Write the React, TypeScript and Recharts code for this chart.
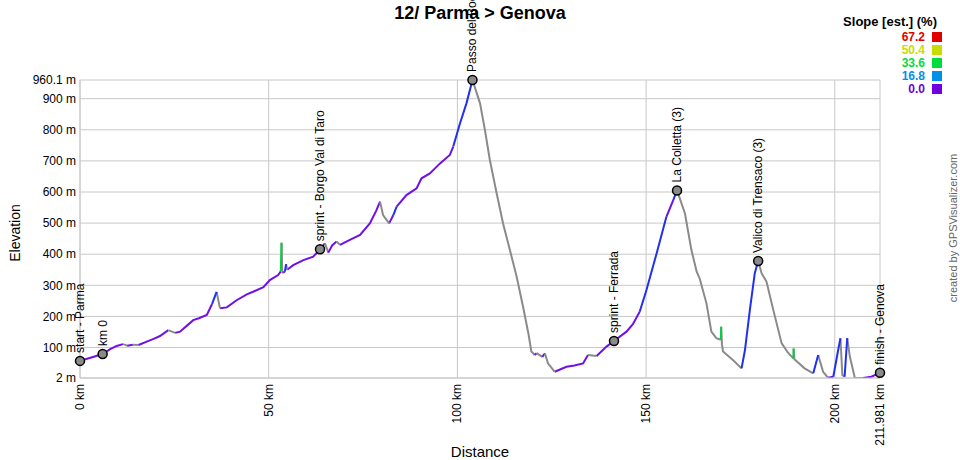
import React from 'react';
import { LineChart, Line, XAxis, YAxis, CartesianGrid, ReferenceDot } from 'recharts';

// elevation profile
const distKm = [
  0, 3, 6.0, 8, 9.7, 11.4, 12.5, 14, 15.5, 17.7, 19.5, 21.2, 23.4, 24.2, 25.2, 26.5, 28.5, 30,
  31.5, 33.6, 35, 36.2, 37.1, 38.9, 41.5, 44.2, 46, 48.6, 50.3, 52.5, 53.2, 53.4, 53.6, 54.3,
  54.6, 54.9, 56.5, 59.2, 61.8, 63.6, 64.9, 65.8, 66.8, 68, 68.9, 71.5, 74.2, 76.8, 78.5, 79.5,
  80.3, 81.9, 83.0, 83.9, 86.5, 89.2, 90.5, 92.7, 95.4, 98, 98.9, 100.7, 102.4, 104.0, 106,
  107.3, 108.6, 110.4, 112.1, 113.9, 115.7, 117.4, 118.8, 119.6, 120.5, 121.0, 122.5, 123.2,
  124, 125.8, 128.9, 131, 133.3, 134.6, 136.9, 139.5, 141.5, 144.8, 146.5, 148.3, 150.1, 152.8,
  155.4, 157.2, 158.2, 160.3, 162, 163.4, 164.2, 166, 167.3, 168.6, 169.8, 169.9, 170.1, 170.4,
  173, 175.3, 176.2, 177.5, 178.8, 179.7, 180.6, 181.9, 183.7, 185.9, 187.5, 189, 189.1, 189.3,
  192, 194.3, 195.6, 196.9, 198.2, 199.6, 200.9, 201.5, 202, 202.6, 203.3, 204, 205.3, 207.5,
  209.7, 211.981,
];
const elevM = [
  57, 68, 79, 95, 105, 111, 106, 109, 108, 119, 128, 137, 156, 152, 147, 151, 172, 188,
  194, 205, 240, 279, 226, 229, 252, 271, 280, 294, 317, 333, 345, 437, 340, 344,
  368, 350, 365, 381, 392, 416, 435, 405, 428, 441, 430, 446, 462, 499, 540, 569,
  526, 499, 525, 553, 590, 612, 644, 660, 692, 719, 746, 821, 885, 960, 885,
  799, 703, 596, 499, 414, 328, 231, 146, 87, 76, 82, 70, 81,
  49, 22, 38, 42, 49, 76, 73, 103, 121, 151, 175, 215, 285, 403,
  521, 574, 605, 531, 414, 344, 322, 242, 151, 130, 125, 167, 110, 87,
  60, 33, 92, 221, 339, 378, 339, 312, 221, 114, 85, 65, 97, 62,
  33, 17, 76, 22, 3, 6, 92, 130, 12, 6, 130, 70, 3, 2,
  6, 19,
];

const wpNames = [
  'start - Parma', 'km 0', 'sprint - Borgo Val di Taro', 'Passo del Bocco',
  'sprint - Ferrada', 'La Colletta (3)', 'Valico di Trensaco (3)', 'finish - Genova',
];
const wpKm = [0, 6.0, 63.6, 104.0, 141.5, 158.2, 179.7, 211.981];
const wpElev = [57, 79, 416, 960, 121, 605, 378, 19];

const xTicks = [0, 50, 100, 150, 200, 211.981];
const yTicks = [2, 100, 200, 300, 400, 500, 600, 700, 800, 900, 960.1];

const legendValues = ['67.2', '50.4', '33.6', '16.8', '0.0'];
const legendColors = ['#e00000', '#c8dc00', '#00dc3c', '#0090e8', '#7000e0'];

const FONT = '"Liberation Sans", Arial, sans-serif';
const GRID = '#c8c8c8';
// flat climb, climb, steep, descent
const segColors = ['#7010e8', '#2030f0', '#00d040', '#8a8a8a'];

function segColor(i: number) {
  const slope = (elevM[i + 1] - elevM[i]) / ((distKm[i + 1] - distKm[i]) * 10);
  if (slope < 0) return 3;
  if (slope < 3) return 0;
  if (slope < 20) return 1;
  return 2;
}

// split the profile into runs of one colour; runs get their own series key
const seriesKeys: { key: string; color: string }[] = [];
const rows: Record<string, number | null>[] = distKm.map((d) => ({ d }));
{
  let run = -1;
  let prev = -1;
  for (let i = 0; i < distKm.length - 1; i++) {
    const c = segColor(i);
    if (c !== prev) {
      run++;
      prev = c;
    }
    const key = `s${c}_${run % 3}`;
    if (!seriesKeys.find((s) => s.key === key)) seriesKeys.push({ key, color: segColors[c] });
    rows[i][key] = elevM[i];
    rows[i + 1][key] = elevM[i + 1];
  }
  rows.forEach((r) => seriesKeys.forEach((s) => {
    if (r[s.key] === undefined) r[s.key] = null;
  }));
}

const XTick = ({ x, payload }: any) => (
  <text
    x={x + 4}
    y={384}
    transform={`rotate(-90, ${x + 4}, 384)`}
    textAnchor="end"
    fontSize={12}
    fontFamily={FONT}
    fill="#000"
  >
    {payload.value} km
  </text>
);

const YTick = ({ y, payload }: any) => (
  <text x={76} y={y} dy="0.35em" textAnchor="end" fontSize={12} fontFamily={FONT} fill="#000">
    {payload.value} m
  </text>
);

function Waypoint({ cx, cy, name }: { cx: number; cy: number; name: string }) {
  const tx = cx + 4;
  const ty = cy - 8;
  return (
    <g>
      <circle cx={cx} cy={cy} r={4.5} fill="#8a8a8a" stroke="#000" strokeWidth={1.5} />
      <text
        x={tx}
        y={ty}
        transform={`rotate(-90, ${tx}, ${ty})`}
        fontSize={12}
        fontFamily={FONT}
        fill="#000"
      >
        {name}
      </text>
    </g>
  );
}

export default function App() {
  return (
    <div style={{ position: 'absolute', left: 0, top: 0, width: 960, height: 460, background: '#fff' }}>
      <LineChart
        width={960}
        height={460}
        data={rows}
        margin={{ top: 80, right: 80, bottom: 22, left: 8 }}
      >
        <CartesianGrid stroke={GRID} />
        <XAxis
          dataKey="d"
          type="number"
          domain={[0, 211.981]}
          ticks={xTicks}
          interval={0}
          tick={<XTick />}
          tickLine={false}
          axisLine={{ stroke: GRID }}
          height={60}
          allowDataOverflow
        />
        <YAxis
          type="number"
          domain={[2, 960.1]}
          ticks={yTicks}
          interval={0}
          tick={<YTick />}
          tickLine={false}
          axisLine={{ stroke: GRID }}
          width={72}
          allowDataOverflow
        />
        {seriesKeys.map((s) => (
          <Line
            key={s.key}
            dataKey={s.key}
            type="linear"
            stroke={s.color}
            strokeWidth={2}
            dot={false}
            activeDot={false}
            connectNulls={false}
            isAnimationActive={false}
          />
        ))}
        {wpNames.map((name, i) => (
          <ReferenceDot
            key={name}
            x={wpKm[i]}
            y={wpElev[i]}
            r={4.5}
            shape={(p: any) => <Waypoint cx={p.cx} cy={p.cy} name={name} />}
          />
        ))}
      </LineChart>
      <svg
        width={960}
        height={460}
        style={{ position: 'absolute', left: 0, top: 0, pointerEvents: 'none' }}
        fontFamily={FONT}
      >
        <text x={480} y={19} textAnchor="middle" fontSize={18} fontWeight="bold" fill="#000">
          12/ Parma &gt; Genova
        </text>
        <text x={20} y={233} transform="rotate(-90, 20, 233)" textAnchor="middle" fontSize={14} fill="#000">
          Elevation
        </text>
        <text x={480} y={457} textAnchor="middle" fontSize={15} fill="#000">
          Distance
        </text>
        <text x={937} y={26} textAnchor="end" fontSize={13} fontWeight="bold" fill="#000">
          Slope [est.] (%)
        </text>
        {legendValues.map((v, i) => (
          <g key={v}>
            <text x={925} y={41 + i * 13} textAnchor="end" fontSize={12} fontWeight="bold" fill={legendColors[i]}>
              {v}
            </text>
            <rect x={932} y={32 + i * 13} width={10} height={10} fill={legendColors[i]} />
          </g>
        ))}
        <text x={957} y={228} transform="rotate(-90, 957, 228)" textAnchor="middle" fontSize={11} fill="#666">
          created by GPSVisualizer.com
        </text>
      </svg>
    </div>
  );
}
